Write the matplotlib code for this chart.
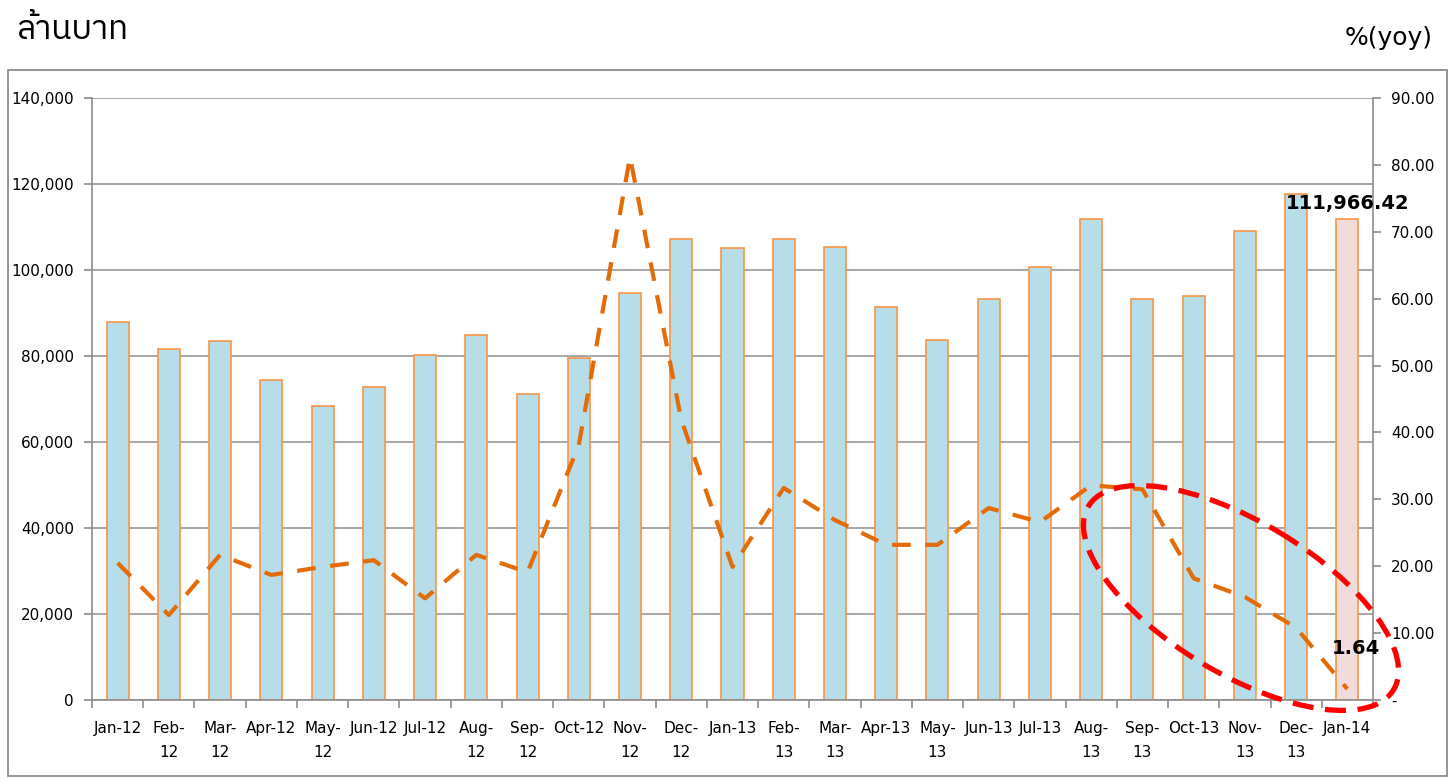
import matplotlib
matplotlib.use("Agg")
import matplotlib.pyplot as plt
from matplotlib import font_manager
from matplotlib.patches import Ellipse, Rectangle
import numpy as np

plt.rcParams['font.family'] = ['DejaVu Sans', 'Noto Sans']


def find_thai_family():
    try:
        from fontTools.ttLib import TTFont
    except Exception:
        return None
    preferred = []
    for fe in font_manager.fontManager.ttflist:
        try:
            f = TTFont(fe.fname, fontNumber=0, lazy=True)
            cmap = f.getBestCmap()
            if cmap and 0x0E25 in cmap and 0x0E17 in cmap:
                preferred.append(fe.name)
        except Exception:
            continue
    for name in preferred:
        if "Tahoma" in name or "Thai" in name:
            return name
    return preferred[0] if preferred else None


thai_family = find_thai_family()

categories = ["Jan-12", "Feb-\n12", "Mar-\n12", "Apr-12", "May-\n12", "Jun-12", "Jul-12",
              "Aug-\n12", "Sep-\n12", "Oct-12", "Nov-\n12", "Dec-\n12", "Jan-13", "Feb-\n13",
              "Mar-\n13", "Apr-13", "May-\n13", "Jun-13", "Jul-13", "Aug-\n13", "Sep-\n13",
              "Oct-13", "Nov-\n13", "Dec-\n13", "Jan-14"]
values = [87900, 81600, 83500, 74400, 68400, 72800, 80200, 84900, 71200, 79500,
          94700, 107200, 105100, 107200, 105300, 91400, 83700, 93300, 100700, 111900,
          93300, 94000, 109100, 117700, 111966.42]
yoy = [20.5, 12.7, 21.7, 18.7, 19.9, 20.9, 15.2, 21.7, 19.1, 38.1,
       81.2, 41.9, 19.9, 31.7, 26.9, 23.2, 23.2, 28.7, 26.6, 32.1,
       31.5, 18.2, 15.4, 10.8, 1.64]
left_ticks = [0, 20000, 40000, 60000, 80000, 100000, 120000, 140000]
left_labels = ["0", "20,000", "40,000", "60,000", "80,000", "100,000", "120,000", "140,000"]
right_ticks = [0, 10, 20, 30, 40, 50, 60, 70, 80, 90]
right_labels = ["-", "10.00", "20.00", "30.00", "40.00", "50.00", "60.00", "70.00", "80.00", "90.00"]

W, H = 1455, 779
fig = plt.figure(figsize=(W / 100, H / 100), dpi=100)
fig.patch.set_facecolor("white")

# outer frame
fig.patches.append(Rectangle((8 / W, 1 - 776 / H), (1447 - 8) / W, (776 - 70) / H,
                             transform=fig.transFigure, fill=False, edgecolor="#8c8c8c", lw=1.3))

ax = fig.add_axes([92 / W, 1 - 700 / H, (1373 - 92) / W, (700 - 98) / H])
x = np.arange(len(categories))
colors = ["#B7DDE8"] * (len(values) - 1) + ["#F2DCDB"]
ax.bar(x, values, width=0.43, color=colors, edgecolor="#F79646", linewidth=1.2, zorder=2)
ax.set_xlim(-0.5, len(categories) - 0.5)
ax.set_ylim(0, 140000)
ax.set_yticks(left_ticks)
ax.set_yticklabels(left_labels)
ax.yaxis.grid(True, color="#a0a0a0", lw=1.3, zorder=0)
ax.set_axisbelow(True)
ax.set_xticks(x)
ax.set_xticklabels(categories, va="top", linespacing=1.75)
ax.set_xticks(np.arange(-0.5, len(categories)), minor=True)
ax.tick_params(axis="x", which="major", length=0, pad=15, labelsize=11)
ax.tick_params(axis="x", which="minor", length=6, color="#8c8c8c", width=1.2)
ax.tick_params(axis="y", length=6, color="#8c8c8c", width=1.2, labelsize=11, pad=7)
for s in ["top", "right"]:
    ax.spines[s].set_visible(False)
for s in ["left", "bottom"]:
    ax.spines[s].set_color("#8c8c8c")
    ax.spines[s].set_linewidth(1.2)

ax2 = ax.twinx()
ax2.plot(x, yoy, color="#E36C09", lw=3, ls=(0, (4.5, 3.5)), zorder=3)
ax2.set_ylim(0, 90)
ax2.set_yticks(right_ticks)
ax2.set_yticklabels(right_labels)
ax2.tick_params(axis="y", length=6, color="#8c8c8c", width=1.2, labelsize=11, pad=7)
for s in ["top", "left", "bottom"]:
    ax2.spines[s].set_visible(False)
ax2.spines["right"].set_color("#8c8c8c")
ax2.spines["right"].set_linewidth(1.2)

ax2.annotate("111,966.42", xy=(x[-1], values[-1] * 90 / 140000), xytext=(0, 4),
             textcoords="offset points", ha="center", va="bottom",
             fontsize=14, fontweight="bold", color="black", zorder=5)
ax2.annotate("1.64", xy=(x[-1], yoy[-1]), xytext=(6, 22),
             textcoords="offset points", ha="center", va="bottom",
             fontsize=14, fontweight="bold", color="black", zorder=5)

# overlay for ellipse (pixel coordinates)
ov = fig.add_axes([0, 0, 1, 1], facecolor="none")
ov.set_xlim(0, W)
ov.set_ylim(H, 0)
ov.axis("off")
ov.add_patch(Ellipse((1241, 598), 356, 152, angle=31, fill=False, edgecolor="#FF0000",
                     lw=3.8, ls=(0, (4, 2.2))))

title_fam = ([thai_family] if thai_family else []) + ['DejaVu Sans']
fig.text(17 / W, 1 - 30 / H, "ล้านบาท", fontsize=24, va="center", ha="left", family=title_fam)
fig.text(1433 / W, 1 - 38 / H, "%(yoy)", fontsize=18, va="center", ha="right")

fig.savefig("out.png", dpi=100)
